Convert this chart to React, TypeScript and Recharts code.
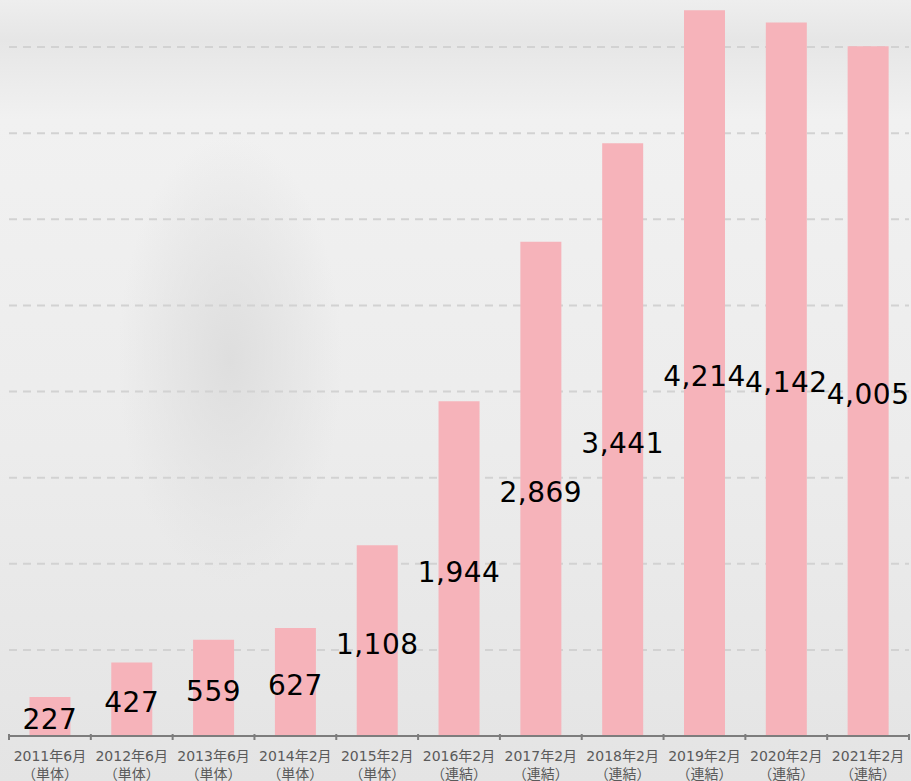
import { BarChart, Bar, XAxis, YAxis, CartesianGrid, LabelList } from 'recharts';

const periods = [
  '2011年6月', '2012年6月', '2013年6月', '2014年2月', '2015年2月', '2016年2月',
  '2017年2月', '2018年2月', '2019年2月', '2020年2月', '2021年2月',
];
const basis = [
  '（単体）', '（単体）', '（単体）', '（単体）', '（単体）', '（連結）',
  '（連結）', '（連結）', '（連結）', '（連結）', '（連結）',
];
const sales = [227, 427, 559, 627, 1108, 1944, 2869, 3441, 4214, 4142, 4005];
const gridTicks = [500, 1000, 1500, 2000, 2500, 3000, 3500, 4000];

const data = periods.map((p, i) => ({ name: p, value: sales[i] }));

const AXIS_GREY = '#7d7d7d';

// two-line category label + small tick marks on the band edges
function PeriodTick({ x, y, payload, index }: any) {
  const half = payload.offset ?? 0;
  const top = y - 10;
  return (
    <g>
      <line x1={x - half} x2={x - half} y1={top} y2={top + 6} stroke={AXIS_GREY} strokeWidth={2} />
      {index === periods.length - 1 && (
        <line x1={x + half} x2={x + half} y1={top} y2={top + 6} stroke={AXIS_GREY} strokeWidth={2} />
      )}
      <text x={x} y={y} textAnchor="middle" fill="#5a5a5a" fontSize={14}
        fontFamily="'DejaVu Sans', 'Noto Sans CJK JP', sans-serif">
        <tspan x={x} dy={17}>{payload.value}</tspan>
        <tspan x={x} dy={18}>{basis[index]}</tspan>
      </text>
    </g>
  );
}

export default function App() {
  return (
    <div
      style={{
        width: 911,
        height: 781,
        overflow: 'hidden',
        background:
          'radial-gradient(ellipse 160px 320px at 230px 360px, #dedede, rgba(230,230,230,0) 70%), linear-gradient(180deg, #eeeeee 0px, #e6e6e6 40px, #f1f1f1 120px, #ececec 450px, #e4e4e4 781px)',
      }}
    >
      <style>{'body{margin:0}'}</style>
      <BarChart
        width={911}
        height={781}
        data={data}
        margin={{ top: 0, right: 2, bottom: 0, left: 9 }}
        barCategoryGap="25%"
      >
        <CartesianGrid
          vertical={false}
          horizontalValues={gridTicks}
          stroke="#d2d2d2"
          strokeWidth={2}
          strokeDasharray="8 6"
        />
        <XAxis
          dataKey="name"
          height={45}
          axisLine={{ stroke: AXIS_GREY, strokeWidth: 2 }}
          tickLine={false}
          tick={<PeriodTick />}
          interval={0}
        />
        <YAxis hide domain={[0, 4273]} ticks={gridTicks} allowDataOverflow />
        <Bar dataKey="value" fill="#f6b3ba" isAnimationActive={false}>
          <LabelList
            dataKey="value"
            position="center"
            offset={0}
            fill="#000"
            fontSize={28}
            letterSpacing={0.5}
            dy={3}
            fontFamily="'DejaVu Sans', sans-serif"
            formatter={(v: any) => Number(v).toLocaleString('en-US')}
          />
        </Bar>
      </BarChart>
    </div>
  );
}
